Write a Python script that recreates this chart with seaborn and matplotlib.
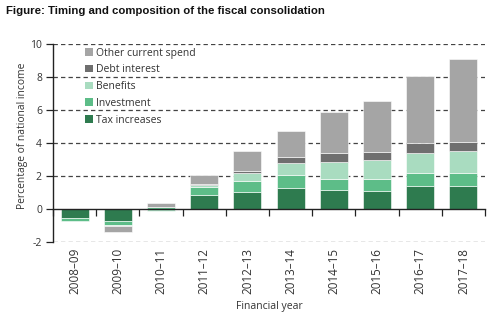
import matplotlib
matplotlib.use("Agg")
import matplotlib.pyplot as plt
import seaborn as sns
import numpy as np
import pandas as pd
from matplotlib.patches import Patch

years = ["2008–09", "2009–10", "2010–11", "2011–12", "2012–13",
         "2013–14", "2014–15", "2015–16", "2016–17", "2017–18"]
tax = [-0.53, -0.70, 0.00, 0.85, 1.05, 1.30, 1.15, 1.09, 1.41, 1.41]
investment = [-0.18, -0.30, 0.10, 0.47, 0.65, 0.75, 0.67, 0.75, 0.79, 0.79]
benefits = [0.00, -0.05, -0.10, 0.14, 0.47, 0.73, 1.00, 1.15, 1.19, 1.33]
debt = [0.00, 0.00, 0.00, 0.06, 0.14, 0.36, 0.55, 0.47, 0.61, 0.55]
other = [0.00, -0.33, 0.28, 0.53, 1.23, 1.58, 2.48, 3.10, 4.04, 5.01]

series_names = ["Tax increases", "Investment", "Benefits", "Debt interest", "Other current spend"]
series_vals = [tax, investment, benefits, debt, other]
colors = ["#2e7b4f", "#5dbd88", "#a9dcc0", "#6f6f6f", "#a5a5a5"]

sns.set_theme(style="white")
plt.rcParams["font.family"] = ["Open Sans", "DejaVu Sans"]

fig = plt.figure(figsize=(5, 3.27), dpi=100)
ax = fig.add_axes([0.106, 0.26, 0.864, 0.6054])

pos_base = np.zeros(len(years))
neg_base = np.zeros(len(years))
for name, vals, col in zip(series_names, series_vals, colors):
    v = np.array(vals, dtype=float)
    bottom = np.where(v >= 0, pos_base, neg_base)
    df = pd.DataFrame({"year": years, "value": v})
    sns.barplot(data=df, x="year", y="value", bottom=bottom, color=col,
                width=0.65, saturation=1, ax=ax, edgecolor="white",
                linewidth=0.4, errorbar=None, zorder=3)
    pos_base = pos_base + np.where(v >= 0, v, 0)
    neg_base = neg_base + np.where(v < 0, v, 0)

ax.set_xlim(-0.5, len(years) - 0.5)
ax.set_ylim(-2, 10)
ax.set_yticks([-2, 0, 2, 4, 6, 8, 10])
ax.set_yticklabels(["-2", "0", "2", "4", "6", "8", "10"])
for yv in [-2, 2, 4, 6, 8, 10]:
    ax.axhline(yv, color="#444444", lw=0.9, ls=(0, (3.5, 2.5)), zorder=1)

for s in ["top", "right"]:
    ax.spines[s].set_visible(False)
ax.spines["left"].set_color("#222222")
ax.spines["left"].set_linewidth(1.0)
ax.spines["bottom"].set_position(("data", 0))
ax.spines["bottom"].set_color("#222222")
ax.spines["bottom"].set_linewidth(1.0)
ax.spines["bottom"].set_zorder(4)

ax.set_xticks(np.arange(-0.5, len(years), 1.0), minor=True)
ax.tick_params(axis="x", which="minor", length=5, width=0.9, color="#222222", direction="out", bottom=True)
ax.tick_params(axis="x", which="major", length=0, pad=28, labelsize=8.4, labelcolor="#333333", rotation=90)
ax.tick_params(axis="y", which="major", length=5, width=0.9, color="#222222", direction="out", left=True,
               labelsize=7.5, labelcolor="#333333", pad=3)

ax.set_xlabel("Financial year", fontsize=7.5, color="#333333", labelpad=5)
ax.set_ylabel("Percentage of national income", fontsize=7.4, color="#333333", labelpad=1)
ax.yaxis.set_label_coords(-0.058, 0.535)

handles = [Patch(facecolor=c, edgecolor="none", label=n) for n, c in zip(series_names, colors)][::-1]
leg = ax.legend(handles=handles, loc="upper left", bbox_to_anchor=(0.065, 1.003), frameon=False,
                fontsize=7.5, handlelength=0.7, handleheight=0.7, handletextpad=0.35,
                labelspacing=0.55, borderaxespad=0)
for t in leg.get_texts():
    t.set_color("#333333")

fig.text(0.012, 0.965, "Figure: Timing and composition of the fiscal consolidation",
         fontsize=8.2, fontweight="bold", family="Liberation Sans", color="#111111", va="center")

fig.savefig("out.png", dpi=100, facecolor="white")
